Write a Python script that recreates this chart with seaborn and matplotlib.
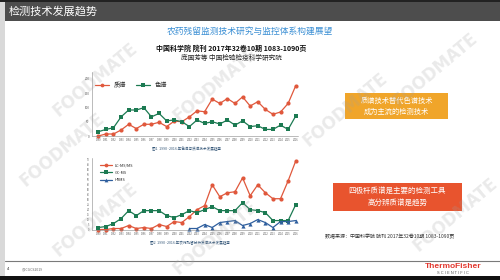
import matplotlib
matplotlib.use("Agg")
import matplotlib.pyplot as plt
import matplotlib.patches as mpatches
import seaborn as sns
import pandas as pd

# ---------------- data ----------------
years = list(range(1990, 2017))
ms_top = [0, 7, 7, 21, 41, 26, 41, 41, 48, 33, 52, 50, 67, 88, 85, 129, 114, 131, 114, 137, 105, 120, 93, 76, 84, 114, 176]
chrom_top = [15, 23, 29, 67, 91, 91, 99, 67, 79, 53, 56, 50, 33, 56, 44, 50, 42, 56, 38, 53, 33, 36, 23, 23, 38, 23, 70]
top_labels = ["质谱", "色谱"]

lcms = [0, 0, 1, 1, 4, 1, 2, 1, 5, 3, 8, 7, 13, 20, 24, 45, 33, 37, 38, 52, 34, 45, 37, 31, 31, 49, 69]
gcms = [2, 3, 6, 11, 19, 14, 19, 19, 19, 14, 12, 15, 19, 17, 20, 23, 19, 19, 19, 27, 20, 19, 17, 9, 9, 9, 25]
hrms_years = list(range(2002, 2017))
hrms = [1, 1, 5, 2, 7, 8, 9, 4, 6, 10, 7, 2, 8, 8, 9]
bottom_labels = ["LC-MS/MS", "GC-MS", "HRMS"]

top_ticks = [0, 50, 100, 150, 200]
bottom_ticks = list(range(0, 75, 5))

sns.set_theme(style="white")
plt.rcParams["font.family"] = ["Noto Sans CJK SC", "DejaVu Sans"]
FAM = ["Noto Sans CJK SC", "DejaVu Sans"]

W, H = 500, 280
fig = plt.figure(figsize=(5, 2.8), dpi=100)
fig.patch.set_facecolor("white")


def fx(x):
    return x / W


def fy(y):
    return 1 - y / H


def rect(x0, y0, x1, y1, color, z=0, **kw):
    r = mpatches.Rectangle((fx(x0), fy(y1)), fx(x1) - fx(x0), (y1 - y0) / H,
                           transform=fig.transFigure, facecolor=color,
                           edgecolor="none", zorder=z, **kw)
    fig.add_artist(r)


# slide frame
rect(0, 0, 500, 280, "#ffffff", z=-5)
rect(0, 0, 5, 280, "#d9d9d9", z=-4)
rect(5, 0, 500, 21, "#4d4d4d", z=1)
rect(0, 0, 500, 2, "#222222", z=1)
rect(0, 276, 500, 280, "#111111", z=1)
fig.add_artist(plt.Line2D([fx(5), fx(500)], [fy(261), fy(261)], transform=fig.transFigure,
                          color="#7a7a7a", lw=0.8))

fig.text(fx(9), fy(11), "检测技术发展趋势", color="white", fontsize=8, va="center", ha="left", family=FAM, zorder=3)
fig.text(fx(250), fy(31), "农药残留监测技术研究与监控体系构建展望", color="#3b8fd4", fontsize=6.3,
         va="center", ha="center", family=FAM)
fig.text(fx(231), fy(48), "中国科学院 院刊 2017年32卷10期 1083-1090页", color="#111111", fontsize=5,
         fontweight="bold", va="center", ha="center", family=FAM)
fig.text(fx(231), fy(58), "庞国芳等 中国检验检疫科学研究院", color="#222222", fontsize=4.8,
         va="center", ha="center", family=FAM)

RED = "#e0583c"
GREEN = "#1c7a52"
BLUE = "#2f5f9e"

# ---------------- top chart ----------------
ax1 = fig.add_axes([fx(91.7), fy(136), fx(298) - fx(91.7), (136 - 72) / H])
df_top = pd.DataFrame({
    "year": years * 2,
    "value": ms_top + chrom_top,
    "series": [top_labels[0]] * len(years) + [top_labels[1]] * len(years),
})
sns.lineplot(data=df_top, x="year", y="value", hue="series", style="series",
             palette=[RED, GREEN], markers=["o", "s"], dashes=False,
             markersize=3.0, linewidth=0.9, markeredgewidth=0, ax=ax1)
ax1.set_xlim(1989.13, 2016.3)
ax1.set_ylim(0, 224)
ax1.set_yticks(top_ticks)
ax1.set_xticks(years)
ax1.set_xticklabels([str(y) for y in years], fontsize=1.8, color="#555555")
ax1.set_yticklabels([str(t) for t in top_ticks], fontsize=2.2, color="#555555")
ax1.tick_params(length=1, width=0.3, pad=0.5)
ax1.set_xlabel("")
ax1.set_ylabel("")
for s in ["top", "right"]:
    ax1.spines[s].set_visible(False)
for s in ["left", "bottom"]:
    ax1.spines[s].set_color("#888888")
    ax1.spines[s].set_linewidth(0.4)
for ln in ax1.lines:
    ln.set_clip_on(False)
leg = ax1.legend(loc="upper left", ncol=2, fontsize=4.5, frameon=False,
                 handlelength=2.2, columnspacing=1.5, bbox_to_anchor=(0.0, 0.92),
                 markerscale=0.9, borderaxespad=0.2)
for t in leg.get_texts():
    t.set_family(FAM)

fig.text(fx(187), fy(149), "图1  1990~2016 年色谱与质谱技术发展趋势", fontsize=2.6, color="#335577",
         ha="center", va="center", family=FAM)

# ---------------- bottom chart ----------------
ax2 = fig.add_axes([fx(91.7), fy(229.5), fx(298) - fx(91.7), (229.5 - 158) / H])
df_bot = pd.DataFrame({
    "year": years + years + hrms_years,
    "value": lcms + gcms + hrms,
    "series": [bottom_labels[0]] * len(years) + [bottom_labels[1]] * len(years)
              + [bottom_labels[2]] * len(hrms_years),
})
sns.lineplot(data=df_bot, x="year", y="value", hue="series", style="series",
             palette=[RED, GREEN, BLUE], markers=["o", "s", "^"], dashes=False,
             markersize=3.0, linewidth=0.9, markeredgewidth=0, ax=ax2)
ax2.set_xlim(1989.13, 2016.3)
ax2.set_ylim(0, 72)
ax2.set_yticks(bottom_ticks)
ax2.set_xticks(years)
ax2.set_xticklabels([str(y) for y in years], fontsize=1.8, color="#555555")
ax2.set_yticklabels([str(t) for t in bottom_ticks], fontsize=1.8, color="#555555")
ax2.tick_params(length=1, width=0.3, pad=0.5)
ax2.set_xlabel("")
ax2.set_ylabel("")
for s in ["top", "right"]:
    ax2.spines[s].set_visible(False)
for s in ["left", "bottom"]:
    ax2.spines[s].set_color("#888888")
    ax2.spines[s].set_linewidth(0.4)
for ln in ax2.lines:
    ln.set_clip_on(False)
leg2 = ax2.legend(loc="upper left", ncol=1, fontsize=2.8, frameon=False,
                  handlelength=3.0, bbox_to_anchor=(0.03, 0.96), labelspacing=0.9,
                  markerscale=0.9, borderaxespad=0.2)

fig.text(fx(190), fy(243), "图2  1990~2016 年农药残留分析质谱技术发展趋势", fontsize=2.6, color="#335577",
         ha="center", va="center", family=FAM)

# ---------------- boxes ----------------
rect(345, 93, 448, 119, "#f0a52a", z=2)
fig.text(fx(396.5), fy(101), "质谱技术替代色谱技术", color="white", fontsize=5.2, ha="center", va="center",
         family=FAM, zorder=3)
fig.text(fx(396.5), fy(112), "成为主流的检测技术", color="white", fontsize=5.2, ha="center", va="center",
         family=FAM, zorder=3)

rect(333, 183, 462, 211, "#e8542e", z=2)
fig.text(fx(397.5), fy(191), "四极杆质谱是主要的检测工具", color="white", fontsize=5.4, ha="center",
         va="center", family=FAM, zorder=3)
fig.text(fx(397.5), fy(203), "高分辨质谱是趋势", color="white", fontsize=5.4, ha="center", va="center",
         family=FAM, zorder=3)

fig.text(fx(325), fy(237), "数据来源：中国科学院 院刊 2017年32卷10期 1083-1090页", color="#333333",
         fontsize=3.6, ha="left", va="center", family=FAM)

# ---------------- footer ----------------
fig.text(fx(7), fy(269), "4", fontsize=3, color="#333333", ha="left", va="center")
fig.text(fx(22), fy(269), "@ICGCS2019", fontsize=2.5, color="#666666", ha="left", va="center")
fig.text(fx(453), fy(266), "ThermoFisher", fontsize=6, color="#e2382f", fontweight="bold",
         ha="center", va="center", family=["Liberation Sans"])
fig.text(fx(453), fy(273), "S C I E N T I F I C", fontsize=2.8, color="#555555",
         ha="center", va="center", family=["Liberation Sans"])

# ---------------- watermarks ----------------
for (x, y) in [(95, 80), (215, 85), (435, 70), (345, 110), (95, 220), (215, 238), (455, 215), (62, 150)]:
    fig.text(fx(x), fy(y), "FOODMATE", fontsize=12, color="#a0a0a0", alpha=0.22,
             fontweight="bold", rotation=40, ha="center", va="center", zorder=4,
             family=["DejaVu Sans"])

fig.savefig("out.png", dpi=100)
